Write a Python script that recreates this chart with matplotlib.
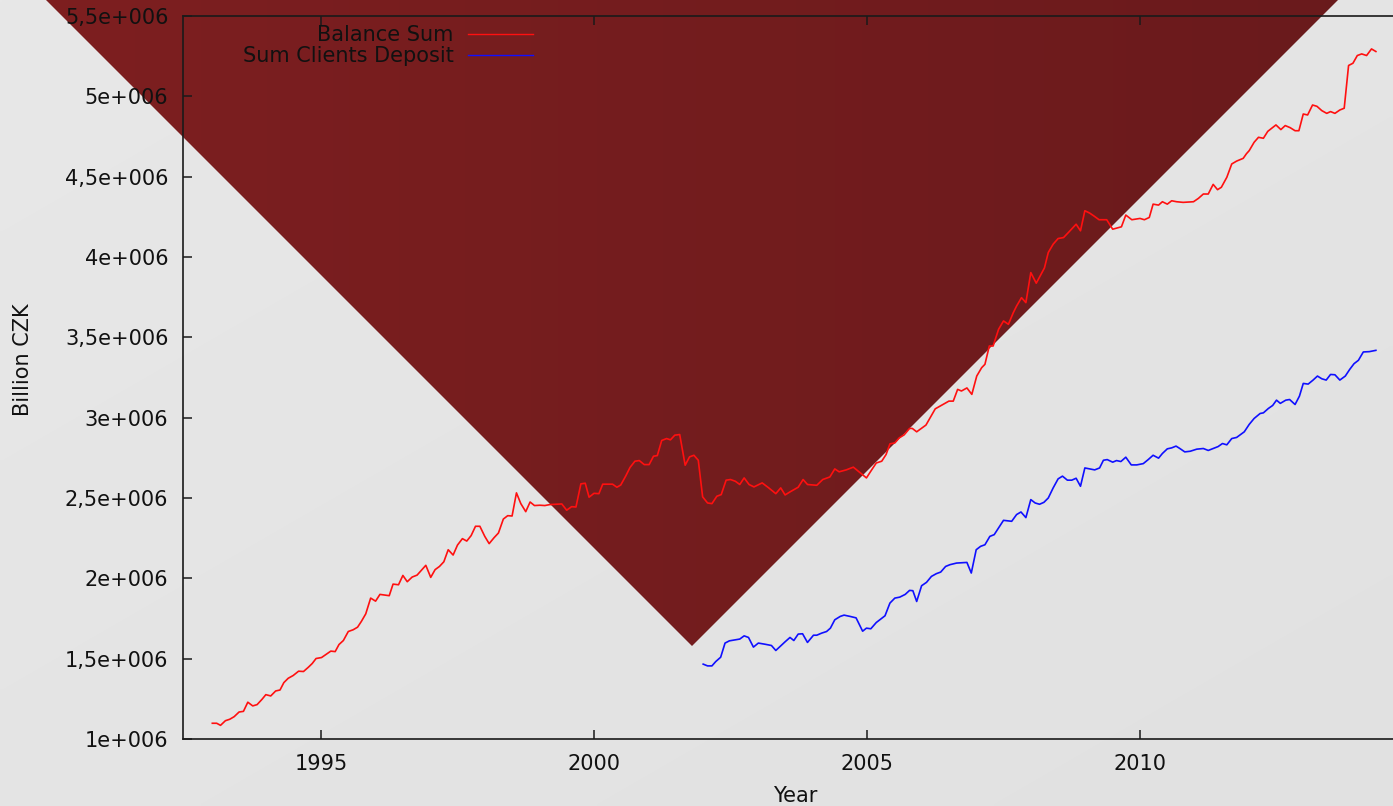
import numpy as np
import matplotlib
matplotlib.use("Agg")
import matplotlib.pyplot as plt
from matplotlib.patches import Polygon

# ---------------- data (values in millions) ----------------
balance_years = [
    1993.01, 1993.09, 1993.16, 1993.25, 1993.33, 1993.41, 1993.50, 1993.58, 1993.66, 1993.75,
    1993.83, 1993.92, 1993.99, 1994.08, 1994.17, 1994.25, 1994.32, 1994.40, 1994.49, 1994.59,
    1994.68, 1994.77, 1994.84, 1994.91, 1995.01, 1995.10, 1995.18, 1995.26, 1995.33, 1995.41,
    1995.50, 1995.59, 1995.67, 1995.74, 1995.82, 1995.91, 1996.00, 1996.08, 1996.17, 1996.25,
    1996.32, 1996.42, 1996.50, 1996.58, 1996.67, 1996.76, 1996.92, 1997.01, 1997.09, 1997.17,
    1997.25, 1997.33, 1997.42, 1997.50, 1997.59, 1997.67, 1997.75, 1997.83, 1997.91, 1998.00,
    1998.08, 1998.17, 1998.25, 1998.34, 1998.42, 1998.50, 1998.58, 1998.66, 1998.75, 1998.83,
    1998.91, 1999.01, 1999.10, 1999.19, 1999.30, 1999.41, 1999.50, 1999.59, 1999.67, 1999.76,
    1999.84, 1999.91, 2000.00, 2000.09, 2000.16, 2000.34, 2000.42, 2000.49, 2000.58, 2000.66,
    2000.75, 2000.83, 2000.92, 2001.01, 2001.09, 2001.16, 2001.24, 2001.33, 2001.40, 2001.48,
    2001.57, 2001.67, 2001.75, 2001.83, 2001.91, 2001.99, 2002.08, 2002.16, 2002.25, 2002.33,
    2002.42, 2002.50, 2002.59, 2002.67, 2002.75, 2002.84, 2002.93, 2003.08, 2003.20, 2003.33,
    2003.42, 2003.50, 2003.59, 2003.74, 2003.83, 2003.91, 2004.08, 2004.19, 2004.32, 2004.41,
    2004.49, 2004.62, 2004.75, 2004.88, 2004.99, 2005.07, 2005.17, 2005.27, 2005.35, 2005.42,
    2005.51, 2005.59, 2005.68, 2005.78, 2005.83, 2005.91, 2006.08, 2006.25, 2006.34, 2006.50,
    2006.58, 2006.66, 2006.73, 2006.83, 2006.92, 2007.01, 2007.10, 2007.16, 2007.24, 2007.31,
    2007.41, 2007.50, 2007.59, 2007.68, 2007.74, 2007.83, 2007.91, 2008.00, 2008.10, 2008.17,
    2008.25, 2008.32, 2008.41, 2008.50, 2008.60, 2008.69, 2008.83, 2008.91, 2008.99, 2009.08,
    2009.17, 2009.25, 2009.39, 2009.50, 2009.66, 2009.74, 2009.85, 2010.00, 2010.08, 2010.17,
    2010.24, 2010.34, 2010.41, 2010.50, 2010.58, 2010.67, 2010.79, 2010.98, 2011.07, 2011.16,
    2011.25, 2011.34, 2011.42, 2011.49, 2011.59, 2011.68, 2011.77, 2011.89, 2011.95, 2012.00,
    2012.09, 2012.17, 2012.26, 2012.34, 2012.41, 2012.49, 2012.58, 2012.66, 2012.75, 2012.84,
    2012.91, 2012.99, 2013.07, 2013.16, 2013.24, 2013.33, 2013.42, 2013.49, 2013.57, 2013.66,
    2013.74, 2013.82, 2013.90, 2013.98, 2014.06, 2014.15, 2014.24, 2014.32,
]
balance_values = [
    1.098, 1.098, 1.085, 1.114, 1.123, 1.139, 1.168, 1.172, 1.229, 1.206,
    1.214, 1.247, 1.276, 1.268, 1.299, 1.305, 1.351, 1.378, 1.395, 1.422,
    1.420, 1.447, 1.470, 1.501, 1.507, 1.528, 1.547, 1.544, 1.588, 1.613,
    1.669, 1.680, 1.696, 1.732, 1.779, 1.877, 1.858, 1.900, 1.896, 1.892,
    1.964, 1.960, 2.018, 1.979, 2.008, 2.020, 2.081, 2.006, 2.054, 2.074,
    2.103, 2.178, 2.145, 2.207, 2.247, 2.232, 2.266, 2.324, 2.324, 2.261,
    2.216, 2.253, 2.282, 2.369, 2.390, 2.388, 2.532, 2.465, 2.415, 2.475,
    2.453, 2.455, 2.453, 2.459, 2.461, 2.463, 2.424, 2.446, 2.444, 2.588,
    2.592, 2.505, 2.529, 2.527, 2.586, 2.586, 2.567, 2.581, 2.636, 2.690,
    2.729, 2.733, 2.708, 2.708, 2.760, 2.764, 2.858, 2.870, 2.862, 2.891,
    2.895, 2.704, 2.756, 2.766, 2.735, 2.507, 2.469, 2.465, 2.511, 2.521,
    2.611, 2.615, 2.604, 2.584, 2.625, 2.584, 2.569, 2.594, 2.563, 2.527,
    2.563, 2.519, 2.538, 2.567, 2.615, 2.584, 2.579, 2.615, 2.631, 2.681,
    2.663, 2.675, 2.692, 2.656, 2.625, 2.667, 2.718, 2.729, 2.771, 2.837,
    2.843, 2.874, 2.893, 2.933, 2.933, 2.912, 2.954, 3.055, 3.072, 3.103,
    3.103, 3.176, 3.166, 3.185, 3.145, 3.259, 3.311, 3.332, 3.446, 3.446,
    3.550, 3.602, 3.581, 3.654, 3.695, 3.747, 3.716, 3.903, 3.837, 3.882,
    3.932, 4.028, 4.080, 4.115, 4.121, 4.153, 4.204, 4.163, 4.288, 4.273,
    4.252, 4.232, 4.232, 4.173, 4.188, 4.261, 4.232, 4.240, 4.232, 4.246,
    4.329, 4.323, 4.344, 4.329, 4.350, 4.344, 4.340, 4.344, 4.365, 4.392,
    4.392, 4.452, 4.419, 4.434, 4.496, 4.579, 4.597, 4.614, 4.643, 4.662,
    4.714, 4.745, 4.739, 4.782, 4.801, 4.822, 4.793, 4.818, 4.805, 4.786,
    4.786, 4.890, 4.884, 4.946, 4.938, 4.911, 4.894, 4.905, 4.894, 4.915,
    4.926, 5.192, 5.206, 5.254, 5.264, 5.254, 5.295, 5.279,
]

deposit_years = [
    2002.00, 2002.08, 2002.16, 2002.23, 2002.32, 2002.40, 2002.48, 2002.58, 2002.67, 2002.75,
    2002.83, 2002.92, 2003.01, 2003.13, 2003.25, 2003.33, 2003.42, 2003.50, 2003.59, 2003.66,
    2003.74, 2003.82, 2003.91, 2004.02, 2004.08, 2004.17, 2004.26, 2004.33, 2004.41, 2004.51,
    2004.58, 2004.69, 2004.80, 2004.92, 2004.99, 2005.07, 2005.17, 2005.25, 2005.33, 2005.42,
    2005.51, 2005.60, 2005.70, 2005.78, 2005.84, 2005.91, 2006.00, 2006.09, 2006.18, 2006.27,
    2006.35, 2006.44, 2006.52, 2006.64, 2006.83, 2006.91, 2007.00, 2007.08, 2007.16, 2007.25,
    2007.33, 2007.50, 2007.65, 2007.74, 2007.82, 2007.91, 2008.00, 2008.08, 2008.16, 2008.24,
    2008.32, 2008.41, 2008.50, 2008.58, 2008.67, 2008.75, 2008.83, 2008.91, 2008.99, 2009.08,
    2009.17, 2009.26, 2009.33, 2009.40, 2009.50, 2009.57, 2009.65, 2009.74, 2009.84, 2009.94,
    2010.06, 2010.15, 2010.24, 2010.34, 2010.41, 2010.50, 2010.58, 2010.66, 2010.73, 2010.82,
    2010.92, 2011.04, 2011.16, 2011.25, 2011.34, 2011.43, 2011.51, 2011.59, 2011.68, 2011.77,
    2011.91, 2012.00, 2012.09, 2012.20, 2012.26, 2012.35, 2012.43, 2012.50, 2012.57, 2012.67,
    2012.74, 2012.84, 2012.92, 2012.99, 2013.08, 2013.17, 2013.25, 2013.33, 2013.41, 2013.49,
    2013.57, 2013.66, 2013.76, 2013.84, 2013.92, 2014.00, 2014.09, 2014.20, 2014.32,
]
deposit_values = [
    1.466, 1.455, 1.455, 1.482, 1.509, 1.597, 1.611, 1.617, 1.622, 1.642,
    1.632, 1.572, 1.597, 1.590, 1.582, 1.551, 1.580, 1.605, 1.632, 1.613,
    1.653, 1.655, 1.601, 1.646, 1.646, 1.659, 1.669, 1.690, 1.742, 1.763,
    1.771, 1.763, 1.754, 1.671, 1.690, 1.686, 1.725, 1.746, 1.767, 1.846,
    1.877, 1.883, 1.900, 1.925, 1.923, 1.856, 1.954, 1.975, 2.012, 2.029,
    2.039, 2.074, 2.085, 2.095, 2.099, 2.033, 2.178, 2.199, 2.209, 2.261,
    2.272, 2.361, 2.355, 2.397, 2.413, 2.378, 2.490, 2.469, 2.461, 2.473,
    2.500, 2.563, 2.619, 2.636, 2.611, 2.611, 2.623, 2.573, 2.687, 2.681,
    2.675, 2.687, 2.735, 2.739, 2.723, 2.733, 2.727, 2.754, 2.706, 2.706,
    2.714, 2.739, 2.766, 2.748, 2.777, 2.806, 2.812, 2.823, 2.808, 2.787,
    2.791, 2.804, 2.808, 2.796, 2.808, 2.820, 2.839, 2.831, 2.870, 2.877,
    2.912, 2.958, 2.995, 3.026, 3.030, 3.057, 3.076, 3.109, 3.089, 3.109,
    3.113, 3.082, 3.134, 3.213, 3.209, 3.234, 3.259, 3.242, 3.234, 3.269,
    3.267, 3.234, 3.259, 3.300, 3.336, 3.357, 3.409, 3.411, 3.419,
]

series_labels = ["Balance Sum", "Sum Clients Deposit"]
x_ticks = [1995, 2000, 2005, 2010]
y_ticks = [1e6, 1.5e6, 2e6, 2.5e6, 3e6, 3.5e6, 4e6, 4.5e6, 5e6, 5.5e6]
y_tick_labels = ["1e+006", "1,5e+006", "2e+006", "2,5e+006", "3e+006",
                 "3,5e+006", "4e+006", "4,5e+006", "5e+006", "5,5e+006"]
x_label = "Year"
y_label = "Billion CZK"

# ---------------- figure ----------------
plt.rcParams['font.family'] = ['DejaVu Sans']
W, H = 1393, 806
fig = plt.figure(figsize=(W / 100, H / 100), dpi=100)

# background gradient + decorative dark-red triangle
bg = fig.add_axes([0, 0, 1, 1], zorder=0)
bg.set_xlim(0, W)
bg.set_ylim(H, 0)
bg.axis('off')
gx, gy = np.meshgrid(np.linspace(0, 1, 300), np.linspace(0, 1, 200))
t = (gx + gy) / 2
light = (0xe8 - 7 * t) / 255.0
bg_img = np.dstack([light, light, light])
bg.imshow(bg_img, extent=(0, W, H, 0), aspect='auto', interpolation='bilinear', zorder=0)

tr = gx
c0 = np.array([0x7e, 0x1f, 0x20]) / 255.0
c1 = np.array([0x69, 0x1a, 0x1c]) / 255.0
tri_img = c0[None, None, :] * (1 - tr[..., None]) + c1[None, None, :] * tr[..., None]
im = bg.imshow(tri_img, extent=(0, W, H, 0), aspect='auto', interpolation='bilinear', zorder=1)
tri = Polygon([(36, -10), (1348, -10), (692, 646)], closed=True,
              transform=bg.transData, facecolor='none', edgecolor='none')
bg.add_patch(tri)
im.set_clip_path(tri)

# main axes (right border lies just beyond the image edge)
left_px, right_px, top_px, bottom_px = 183, 1407, 16, 739
ax = fig.add_axes([left_px / W, 1 - bottom_px / H,
                   (right_px - left_px) / W, (bottom_px - top_px) / H], zorder=1)
ax.patch.set_alpha(0)

ax.plot(balance_years, [v * 1e6 for v in balance_values], color='#ff1010', lw=1.2,
        label=series_labels[0])
ax.plot(deposit_years, [v * 1e6 for v in deposit_values], color='#1010ff', lw=1.2,
        label=series_labels[1])

ax.set_xlim(1992.473, 2014.89)
ax.set_ylim(1e6, 5.5e6)
ax.set_xticks(x_ticks)
ax.set_xticklabels([str(x) for x in x_ticks])
ax.set_yticks(y_ticks)
ax.set_yticklabels(y_tick_labels)

for s in ax.spines.values():
    s.set_color('#1a1a1a')
    s.set_linewidth(1.2)

ax.tick_params(axis='both', direction='in', length=6.5, width=1.1, color='#1a1a1a',
               labelsize=15, labelcolor='#111111', top=True, right=True)
ax.tick_params(axis='y', pad=10.5)
ax.tick_params(axis='x', pad=11)

ax.set_xlabel(x_label, fontsize=15, color='#111111', va='center')
ax.xaxis.set_label_coords((795 - left_px) / (right_px - left_px),
                          (bottom_px - 796) / (bottom_px - top_px))
ax.set_ylabel(y_label, fontsize=15, color='#111111', va='center')
ax.yaxis.set_label_coords((23 - left_px) / (right_px - left_px),
                          (bottom_px - 360) / (bottom_px - top_px))

leg = ax.legend(loc='upper right', bbox_to_anchor=(533 / W, 1 - 25 / H),
                bbox_transform=fig.transFigure, frameon=False, markerfirst=False,
                fontsize=15, handlelength=3.1, handletextpad=0.7, labelspacing=0.05,
                borderpad=0, borderaxespad=0)
for txt in leg.get_texts():
    txt.set_color('#111111')
for ln in leg.get_lines():
    ln.set_linewidth(1.0)

fig.savefig('out.png', dpi=100)
